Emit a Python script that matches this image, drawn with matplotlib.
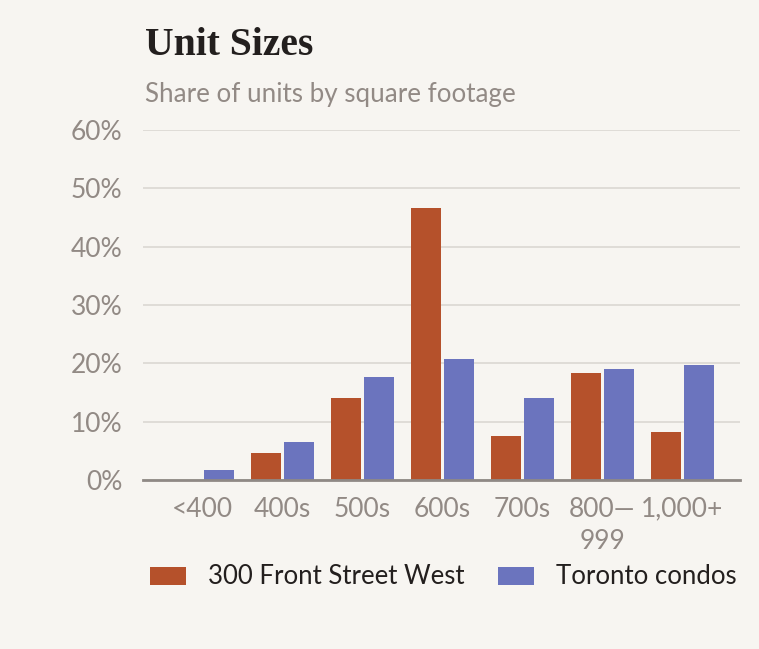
import matplotlib
matplotlib.use("Agg")
import matplotlib.pyplot as plt
import numpy as np

categories = ["<400", "400s", "500s", "600s", "700s", "800—\n999", "1,000+"]
front_street = [0.0, 4.7, 14.0, 46.7, 7.5, 18.3, 8.2]
toronto = [1.8, 6.5, 17.6, 20.7, 14.0, 19.1, 19.8]
series_names = ["300 Front Street West", "Toronto condos"]
yticks = [0, 10, 20, 30, 40, 50, 60]
ytick_labels = ["0%", "10%", "20%", "30%", "40%", "50%", "60%"]

BG = "#F7F5F1"
ORANGE = "#B5512B"
BLUE = "#6B74BE"
GRID = "#DDDAD5"
AXIS = "#8F8985"
TICK = "#928A85"
DARK = "#231F1E"
SANS = ["Lato", "DejaVu Sans"]

W, H = 759, 649
fig = plt.figure(figsize=(W / 100, H / 100), dpi=100, facecolor=BG)
ax = fig.add_axes([143 / W, 1 - 480 / H, (740 - 143) / W, (480 - 130) / H])
ax.set_facecolor(BG)

x = np.arange(len(categories))
bw = 0.375
off = bw / 2 + 0.019
ax.bar(x - off, front_street, width=bw, color=ORANGE, label=series_names[0], zorder=3)
ax.bar(x + off, toronto, width=bw, color=BLUE, label=series_names[1], zorder=3)

ax.set_xlim(-0.74, 6.72)
ax.set_ylim(0, 60)
ax.set_yticks(yticks)
ax.set_yticklabels(ytick_labels)
ax.set_xticks(x)
ax.set_xticklabels(categories, linespacing=1.35)
for s in ["top", "right", "left"]:
    ax.spines[s].set_visible(False)
ax.spines["bottom"].set_color(AXIS)
ax.spines["bottom"].set_linewidth(2)
ax.spines["bottom"].set_zorder(4)
ax.grid(axis="y", color=GRID, linewidth=1.3, zorder=0)
ax.tick_params(axis="both", length=0, labelcolor=TICK, labelsize=19)
ax.tick_params(axis="y", pad=15)
ax.tick_params(axis="x", pad=12)
for lab in ax.get_xticklabels() + ax.get_yticklabels():
    lab.set_family(SANS)

fig.text(145 / W, 1 - 55 / H, "Unit Sizes", family=["Liberation Serif"], weight="bold",
         fontsize=28.5, color=DARK, va="baseline", ha="left")
fig.text(145 / W, 1 - 102 / H, "Share of units by square footage", family=SANS,
         fontsize=18.7, color=TICK, va="baseline", ha="left")

fs = 18.5
px = fs * 100 / 72
leg = ax.legend(loc="center left", bbox_to_anchor=(150 / W, 1 - 577 / H),
                bbox_transform=fig.transFigure, ncol=2, frameon=False,
                prop={"family": SANS, "size": fs},
                handlelength=36 / px, handleheight=18 / px,
                handletextpad=22 / px, columnspacing=33 / px, borderpad=0, borderaxespad=0)
for t in leg.get_texts():
    t.set_color(DARK)

fig.savefig("out.png", dpi=100, facecolor=BG)
